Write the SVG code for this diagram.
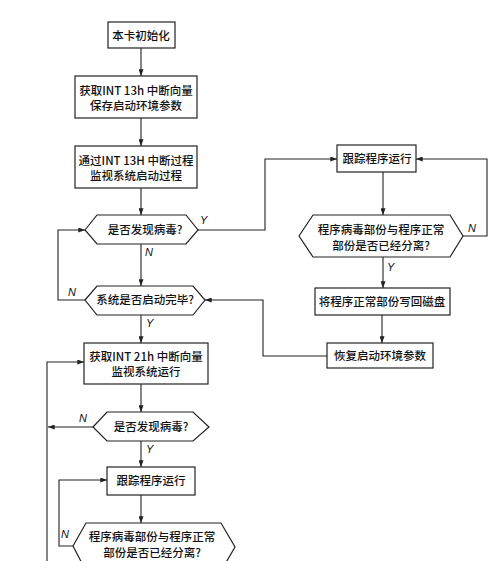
<svg xmlns="http://www.w3.org/2000/svg" width="500" height="561" viewBox="0 0 500 561">
<defs>
<style>
.n{fill:#fff;stroke:#222;stroke-width:1.2}
.t{font-family:"Noto Sans CJK SC","Liberation Sans",sans-serif;font-size:11.5px;fill:#111;text-anchor:middle;font-weight:500}
.c{fill:none;stroke:#222;stroke-width:1.1}
.l{font-family:"Liberation Sans",sans-serif;font-size:11px;font-style:italic;fill:#111}
</style>
<marker id="a" viewBox="0 0 8 6" refX="8" refY="3" markerWidth="7" markerHeight="5" orient="auto" markerUnits="userSpaceOnUse">
<path d="M0,0 L8,3 L0,6 Z" fill="#222"/>
</marker>
</defs>
<rect width="500" height="561" fill="#fff"/>
<g id="connectors">
<path class="c" d="M141,48 V76" marker-end="url(#a)"/>
<path class="c" d="M141,118 V146" marker-end="url(#a)"/>
<path class="c" d="M141,188 V215" marker-end="url(#a)"/>
<path class="c" d="M141,244 V286" marker-end="url(#a)"/>
<path class="c" d="M141,315 V343" marker-end="url(#a)"/>
<path class="c" d="M141,384 V412" marker-end="url(#a)"/>
<path class="c" d="M141,441 V467" marker-end="url(#a)"/>
<path class="c" d="M141,495 V523" marker-end="url(#a)"/>
<path class="c" d="M198,230 H265 V159 H337" marker-end="url(#a)"/>
<path class="c" d="M383,172 V215" marker-end="url(#a)"/>
<path class="c" d="M463,236 H487 V159 H416" marker-end="url(#a)"/>
<path class="c" d="M383,257 V288" marker-end="url(#a)"/>
<path class="c" d="M382,315 V343" marker-end="url(#a)"/>
<path class="c" d="M327,356 H263 V300 H205" marker-end="url(#a)"/>
<path class="c" d="M85,300 H58 V230 H85" marker-end="url(#a)"/>
<path class="c" d="M93,427 H48" marker-end="url(#a)"/>
<path class="c" d="M47,561 V362 H84" marker-end="url(#a)"/>
<path class="c" d="M73,546 H59 V480 H107" marker-end="url(#a)"/>
<text class="l" x="200" y="224">Y</text>
<text class="l" x="145" y="256">N</text>
<text class="l" x="68" y="296">N</text>
<text class="l" x="146" y="327">Y</text>
<text class="l" x="79" y="422">N</text>
<text class="l" x="146" y="453">Y</text>
<text class="l" x="61" y="538">N</text>
<text class="l" x="468" y="232">N</text>
<text class="l" x="387" y="271">Y</text>
</g>
<g id="init"><rect class="n" x="108" y="22" width="67" height="26"/><text class="t" x="141" y="40">本卡初始化</text></g>
<g id="get13"><rect class="n" x="75" y="76" width="122" height="42"/><text class="t" x="136" y="95">获取INT 13h 中断向量</text><text class="t" x="136" y="110">保存启动环境参数</text></g>
<g id="mon13"><rect class="n" x="75" y="146" width="122" height="42"/><text class="t" x="136" y="165">通过INT 13H 中断过程</text><text class="t" x="136" y="180">监视系统启动过程</text></g>
<g id="virus1"><polygon class="n" points="85,230 97,215 186,215 198,230 186,244 97,244"/><text class="t" x="145" y="234">是否发现病毒?</text></g>
<g id="bootdone"><polygon class="n" points="85,300 97,286 193,286 205,300 193,315 97,315"/><text class="t" x="145" y="304">系统是否启动完毕?</text></g>
<g id="get21"><rect class="n" x="84" y="343" width="124" height="41"/><text class="t" x="146" y="361">获取INT 21h 中断向量</text><text class="t" x="146" y="376">监视系统运行</text></g>
<g id="virus2"><polygon class="n" points="93,427 107,412 193,412 209,427 193,441 107,441"/><text class="t" x="151" y="431">是否发现病毒?</text></g>
<g id="trace2"><rect class="n" x="107" y="467" width="88" height="28"/><text class="t" x="151" y="485">跟踪程序运行</text></g>
<g id="sep2"><polygon class="n" points="73,546 86,523 221,523 235,547 221,571 86,571"/><text class="t" x="152" y="541">程序病毒部份与程序正常</text><text class="t" x="152" y="557">部份是否已经分离?</text></g>
<g id="trace1"><rect class="n" x="337" y="145" width="79" height="27"/><text class="t" x="377" y="163">跟踪程序运行</text></g>
<g id="sep1"><polygon class="n" points="299,236 313,215 450,215 463,236 450,257 313,257"/><text class="t" x="381" y="234">程序病毒部份与程序正常</text><text class="t" x="381" y="250">部份是否已经分离?</text></g>
<g id="write"><rect class="n" x="315" y="288" width="135" height="27"/><text class="t" x="382" y="306">将程序正常部份写回磁盘</text></g>
<g id="restore"><rect class="n" x="327" y="343" width="106" height="25"/><text class="t" x="380" y="360">恢复启动环境参数</text></g>
</svg>
